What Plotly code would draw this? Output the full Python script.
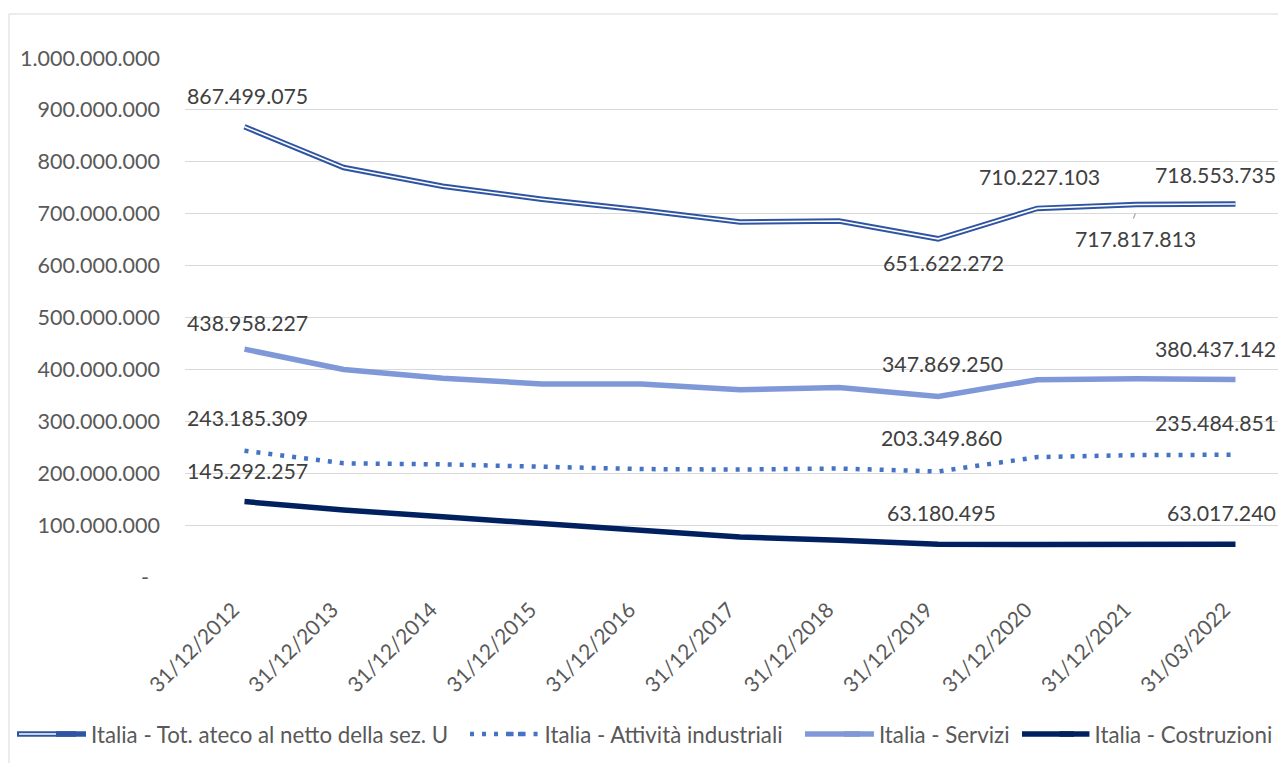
import plotly.graph_objects as go

categories = ["31/12/2012", "31/12/2013", "31/12/2014", "31/12/2015", "31/12/2016",
              "31/12/2017", "31/12/2018", "31/12/2019", "31/12/2020", "31/12/2021", "31/03/2022"]

tot_ateco = [867499075, 789000000, 753000000, 728000000, 707000000, 684000000,
             686000000, 651622272, 710227103, 717817813, 718553735]
industriali = [243185309, 219000000, 217000000, 213000000, 208000000, 207000000,
               209000000, 203349860, 231000000, 235000000, 235484851]
servizi = [438958227, 400000000, 383000000, 372000000, 372000000, 361000000,
           365000000, 347869250, 380000000, 382000000, 380437142]
costruzioni = [145292257, 129000000, 116000000, 103000000, 90000000, 77000000,
               71000000, 63180495, 62500000, 62000000, 63017240]

series_names = ["Italia - Tot. ateco al netto della sez. U",
                "Italia - Attività industriali",
                "Italia - Servizi",
                "Italia - Costruzioni"]

y_tick_values = [0, 100000000, 200000000, 300000000, 400000000, 500000000,
                 600000000, 700000000, 800000000, 900000000, 1000000000]


def it_fmt(v):
    if v == 0:
        return "-\u00a0\u00a0"
    return f"{v:,}".replace(",", ".")


FONT = "Lato"
NB = "\u00a0"
PLOT_L, PLOT_W = 185, 1093
PLOT_B, PLOT_H = 577, 519


def px_x(p):
    return (p - PLOT_L) / PLOT_W


def px_y(p):
    return (PLOT_B - p) / PLOT_H


# trailing spacing so legend entries sit where the reference puts them
legend_pad = [9, 9, 7, 0]

fig = go.Figure()
fig.add_trace(go.Scatter(x=categories, y=tot_ateco, mode="lines",
                         name=series_names[0] + NB * legend_pad[0],
                         line=dict(color="#2F55A2", width=5.5)))
fig.add_trace(go.Scatter(x=categories, y=tot_ateco, mode="lines", showlegend=False,
                         hoverinfo="skip", line=dict(color="white", width=1.6)))
fig.add_trace(go.Scatter(x=categories, y=industriali, mode="lines",
                         name=series_names[1] + NB * legend_pad[1],
                         line=dict(color="#4472C4", width=4.5, dash="4px,8px")))
fig.add_trace(go.Scatter(x=categories, y=servizi, mode="lines",
                         name=series_names[2] + NB * legend_pad[2],
                         line=dict(color="#7F98D8", width=5.5)))
fig.add_trace(go.Scatter(x=categories, y=costruzioni, mode="lines",
                         name=series_names[3] + NB * legend_pad[3],
                         line=dict(color="#002060", width=5.5)))

# data labels: (series values, index, yshift, xshift)
label_specs = [
    (tot_ateco, 0, 31, 3), (tot_ateco, 7, -24, 5), (tot_ateco, 8, 31, 2),
    (tot_ateco, 9, -35, -1), (tot_ateco, 10, 29, -20),
    (servizi, 0, 26, 3), (servizi, 7, 32, 4), (servizi, 10, 31, -20),
    (industriali, 0, 33, 3), (industriali, 7, 33, 3), (industriali, 10, 32, -20),
    (costruzioni, 0, 31, 3), (costruzioni, 7, 31, 3), (costruzioni, 10, 31, -14),
]
annotations = []
for vals, i, ys, xs in label_specs:
    annotations.append(dict(x=categories[i], y=vals[i], text=it_fmt(vals[i]), showarrow=False,
                            yshift=ys, xshift=xs, xanchor="center", yanchor="middle",
                            font=dict(family=FONT, size=21.3, color="#404040")))

LEG_Y = 734
shapes = [
    # chart border
    dict(type="rect", xref="paper", yref="paper", x0=px_x(9), x1=1.02, y0=-0.45, y1=px_y(14),
         line=dict(color="#D9D9D9", width=1), fillcolor="rgba(0,0,0,0)", layer="below"),
    # leader line for the 31/12/2021 label
    dict(type="line", xref="x", yref="y", xsizemode="pixel", ysizemode="pixel",
         xanchor=9, yanchor=tot_ateco[9], x0=-3, x1=-1, y0=-14, y1=-9,
         line=dict(color="#A6A6A6", width=1.2)),
]
# legend symbol extensions (reference symbols are longer than Plotly's)
ext = [(17, 76, "#2F55A2", 5.5, "solid"), (470, 526, "#4472C4", 4.5, "4px,8px"),
       (805, 860, "#7F98D8", 5.5, "solid"), (1022, 1074, "#002060", 5.5, "solid")]
for x0, x1, c, w, d in ext:
    shapes.append(dict(type="line", xref="paper", yref="paper", x0=px_x(x0), x1=px_x(x1),
                       y0=px_y(LEG_Y), y1=px_y(LEG_Y), line=dict(color=c, width=w, dash=d)))
shapes.append(dict(type="line", xref="paper", yref="paper", x0=px_x(19), x1=px_x(76),
                   y0=px_y(LEG_Y), y1=px_y(LEG_Y), line=dict(color="white", width=1.6)))

fig.update_layout(
    width=1278, height=763,
    margin=dict(l=PLOT_L, r=0, t=58, b=186),
    paper_bgcolor="white", plot_bgcolor="white",
    font=dict(family=FONT, size=21, color="#595959"),
    showlegend=True,
    legend=dict(orientation="h", x=px_x(82), xanchor="left", y=px_y(LEG_Y), yanchor="middle",
                font=dict(family=FONT, size=22.3, color="#595959"), itemwidth=30,
                tracegroupgap=0, bgcolor="rgba(0,0,0,0)"),
    annotations=annotations,
    shapes=shapes,
)
fig.update_xaxes(type="category", showgrid=False, showline=False, zeroline=False,
                 tickangle=-45, ticks="", ticklabelstandoff=4,
                 tickvals=categories, ticktext=[c + NB * 3 for c in categories],
                 tickfont=dict(family=FONT, size=21, color="#595959"))
fig.update_yaxes(range=[0, 1000000000], tickvals=y_tick_values,
                 ticktext=[it_fmt(v) for v in y_tick_values],
                 showgrid=True, gridcolor="#D9D9D9", gridwidth=1.3, zeroline=False,
                 showline=False, ticks="", ticklabelstandoff=24,
                 tickfont=dict(family=FONT, size=21.5, color="#595959"))

fig.write_html("out.html")
